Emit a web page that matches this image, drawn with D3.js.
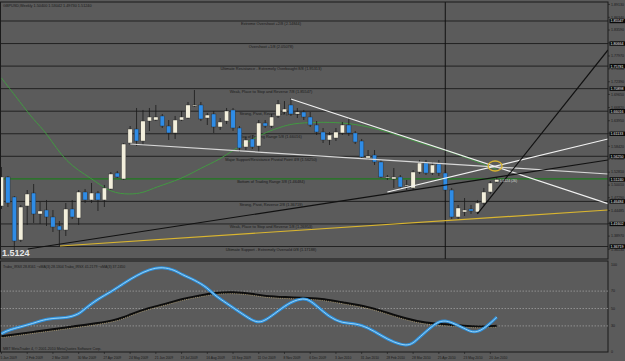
<!DOCTYPE html>
<html>
<head>
<meta charset="utf-8">
<script src="https://d3js.org/d3.v7.min.js"></script>
<style>
  body { margin: 0; background: #5b5b5b; }
  svg { display: block; font-family: "Liberation Sans", Arial, sans-serif; }
</style>
</head>
<body>
<div id="container"></div>
<script>
/* CONSTANTS AND GLOBALS */
const width = 625, height = 361;
const panel = {left: 0.5, right: 608, mainTop: 2, mainBottom: 259, indTop: 261, indBottom: 352};

/* DATA */
const header = "GBPUSD,Weekly  1.50400 1.53042 1.49730 1.51240";
const indHeader = "Trabo_IRSX 28.8161  ~xMA(3) 28.1304  Trabo_IRSX 41.2179  ~xMA(3) 37.2450";
const copyright = "MBT MetaTrader 4, \u00a9 2001-2010 MetaQuotes Software Corp.";

const dateLabels = ["5 Jan 2009","2 Feb 2009","2 Mar 2009","30 Mar 2009","27 Apr 2009","24 May 2009",
  "21 Jun 2009","19 Jul 2009","16 Aug 2009","13 Sep 2009","11 Oct 2009","8 Nov 2009","6 Dec 2009",
  "3 Jan 2010","31 Jan 2010","28 Feb 2010","28 Mar 2010","25 Apr 2010","23 May 2010","20 Jun 2010"];
const dateBars = [0,4,8,12,16,20,24,28,32,36,40,44,48,52,56,60,64,68,72,76];

// weekly OHLC, bar 0 = week of 5 Jan 2009
const opens = [1.4549,1.5177,1.4744,1.3813,1.4549,1.4830,1.4376,1.4462,1.4311,1.4116,
  1.4029,1.4484,1.4289,1.4852,1.4679,1.4830,1.4679,1.4917,1.5263,1.5134,
  1.5913,1.6216,1.5956,1.6389,1.6411,1.6498,1.6281,1.6130,1.6411,1.6454,
  1.6714,1.6736,1.6454,1.6541,1.6260,1.6389,1.6628,1.6238,1.5826,1.6000,
  1.5848,1.6346,1.6281,1.6498,1.6584,1.6736,1.6541,1.6584,1.6476,1.6303,
  1.6151,1.5978,1.6021,1.6130,1.6303,1.6130,1.5956,1.5588,1.5653,1.5502,
  1.5155,1.5134,1.5177,1.4982,1.4939,1.5285,1.5480,1.5263,1.5458,1.5263,
  1.4895,1.4311,1.4419,1.4484,1.4419,1.4614,1.4852,1.5069];
const highs = [1.5393,1.5199,1.4765,1.4571,1.4895,1.5025,1.4636,1.4679,1.4462,1.4224,
  1.4614,1.4679,1.4895,1.4917,1.5047,1.4874,1.5004,1.5285,1.5307,1.5913,
  1.6281,1.6671,1.6628,1.6671,1.6736,1.6541,1.6411,1.6498,1.6606,1.6801,
  1.7061,1.6801,1.6563,1.6606,1.6454,1.6671,1.6671,1.6281,1.6043,1.6086,
  1.6411,1.6411,1.6541,1.6844,1.6822,1.6887,1.6671,1.6628,1.6584,1.6389,
  1.6238,1.6151,1.6238,1.6368,1.6454,1.6173,1.6000,1.5761,1.5761,1.5545,
  1.5220,1.5372,1.5220,1.5112,1.5328,1.5545,1.5545,1.5502,1.5545,1.5328,
  1.4939,1.4571,1.4722,1.4571,1.4679,1.4939,1.5090,1.5177];
const lows = [1.4484,1.4527,1.3560,1.3769,1.4138,1.4181,1.4159,1.4116,1.3986,1.3680,
  1.3899,1.4267,1.4138,1.4614,1.4614,1.4441,1.4527,1.4895,1.5155,1.5112,
  1.5870,1.5848,1.5870,1.6173,1.6389,1.6238,1.5978,1.6000,1.6389,1.6433,
  1.6693,1.6389,1.6303,1.6130,1.6195,1.6324,1.6173,1.5718,1.5761,1.5783,
  1.5718,1.6238,1.6238,1.6454,1.6541,1.6498,1.6454,1.6411,1.6260,1.6086,
  1.5913,1.5870,1.5956,1.6086,1.6065,1.5891,1.5588,1.5545,1.5437,1.5155,
  1.5112,1.4939,1.4917,1.4895,1.4895,1.5242,1.5220,1.5220,1.5199,1.4874,
  1.4267,1.4267,1.4332,1.4376,1.4376,1.4571,1.4809,1.5047];
const closes = [1.5177,1.4614,1.3791,1.4527,1.4809,1.4376,1.4441,1.4311,1.4094,1.4029,
  1.4484,1.4311,1.4852,1.4679,1.4830,1.4679,1.4939,1.5242,1.5177,1.5891,
  1.6216,1.5956,1.6389,1.6476,1.6476,1.6281,1.6130,1.6411,1.6476,1.6736,
  1.6736,1.6433,1.6519,1.6260,1.6368,1.6606,1.6238,1.5805,1.5978,1.5826,
  1.6346,1.6281,1.6476,1.6758,1.6649,1.6541,1.6584,1.6476,1.6303,1.6151,
  1.5978,1.6086,1.6151,1.6303,1.6130,1.5935,1.5610,1.5632,1.5502,1.5177,
  1.5177,1.5177,1.4960,1.5004,1.5285,1.5480,1.5263,1.5437,1.5263,1.4895,
  1.4311,1.4506,1.4462,1.4441,1.4614,1.4852,1.5047,1.5124];

// moving average in the price panel (bar index, price)
const maBars = [0,3,5,7,10,14,17,20,22,24,28,31,34,36,39,41,44,46,50,54,58,62,65,69,72,77];
const maVals = [1.7320,1.6780,1.6411,1.6140,1.5480,1.5150,1.4830,1.4800,1.4830,1.4960,
  1.5134,1.5372,1.5560,1.5761,1.5990,1.6140,1.6290,1.6346,1.6368,1.6346,
  1.6238,1.6065,1.5913,1.5761,1.5610,1.5340];

// Murray math levels and their captions
const murrayLevels = [1.85547,1.80664,1.75781,1.70898,1.66016,1.61133,1.56250,1.51367,1.46484,1.41602,1.36719];
const murrayText = ["Extreme Overshoot +2/8 (2.14844)","Overshoot +1/8 (2.05078)",
  "Ultimate Resistance - Extremely Overbought 8/8 (1.95313)","Weak, Place to Stop and Reverse 7/8 (1.85547)",
  "Strong, Pivot, Reverse 6/8 (1.75781)","Top of Trading Range 5/8 (1.66016)",
  "Major Support/Resistance Pivotal Point 4/8 (1.56250)","Bottom of Trading Range 3/8 (1.46484)",
  "Strong, Pivot, Reverse 2/8 (1.36719)","Weak, Place to Stop and Reverse 1/8 (1.26953)",
  "Ultimate Support - Extremely Oversold 0/8 (1.17188)"];
const murrayGreen = 1.51367;

const priceTicks = [1.89130,1.86340,1.83590,1.80800,1.77970,1.75180,1.72390,1.69650,1.66820,1.63950,
  1.61240,1.58420,1.55660,1.52810,1.50010,1.47290,1.44485,1.41710,1.38970,1.36130];
const lastPrice = 1.51240;

// trend lines: [bar1, price1, bar2, price2, colour]
const trendLines = [
  [45, 1.6866, 94.3, 1.4599, "#f2f2f2"],
  [20, 1.5891, 94.3, 1.5242, "#d8d8d8"],
  [60, 1.4852, 94.3, 1.6000, "#f2f2f2"],
  [4.1, 1.3618, 94.3, 1.5545, "#111111"],
  [9.1, 1.3683, 94.3, 1.4462, "#d9b530"],
  [74, 1.4376, 94.3, 1.7927, "#111111"]
];
const circleAt = [76.75, 1.5415];
const vlineBar = 69;

// oscillator panel (bar index, value 0..100)
const blueBars = [0,1,3,5,6,8,10,12,13,15,17,19,21,23,25,27,28,30,32,33,35,37,39,40,41,43,45,47,48,49,
  51,53,55,57,59,61,63,64,65,67,68,69,70,72,73,74,75,76,77];
const blueVals = [21,25,29,33,36,39,39,43,50,61,69,79,88,95,98,94,89,83,74,66,56,46,36,34,36,47,58,62,59,53,
  40,33,33,28,19,11,7,10,17,30,35,36,34,27,23,23,27,33,40];
const blackBars = [0,5,10,15,18,20,23,26,28,31,33,36,39,41,44,48,50,53,57,60,63,66,69,72,74,77];
const blackVals = [18,23,28,33,37,43,51,56,61,65,68,69,67,64,63,62,61,57,52,45,38,33,32,30,29,30];
const levels = [70, 50, 30];
const levelLabels = [100, 70, 50, 30, 0];

/* SCALES */
const x = d3.scaleLinear().domain([-0.23, 94.3]).range([0, 608]);
const y = d3.scaleLinear().domain([1.33796, 1.90094]).range([260, 0]);
const yInd = d3.scaleLinear().domain([0, 100]).range([352, 265]);

const bars = opens.map((o, i) => ({i, o, h: highs[i], l: lows[i], c: closes[i]}));

/* DRAW */
const svg = d3.select("#container").append("svg")
  .attr("width", width).attr("height", height);

svg.append("rect").attr("width", width).attr("height", height).attr("fill", "#5b5b5b");

const defs = svg.append("defs");
defs.append("clipPath").attr("id", "mainClip").append("rect")
  .attr("x", panel.left).attr("y", panel.mainTop)
  .attr("width", panel.right - panel.left).attr("height", panel.mainBottom - panel.mainTop);
defs.append("clipPath").attr("id", "indClip").append("rect")
  .attr("x", panel.left).attr("y", panel.indTop)
  .attr("width", panel.right - panel.left).attr("height", panel.indBottom - panel.indTop);

const main = svg.append("g").attr("clip-path", "url(#mainClip)");

// murray lines + captions
main.selectAll(".murray")
  .data(murrayLevels)
  .join("line")
  .attr("class", "murray")
  .attr("x1", panel.left).attr("x2", panel.right)
  .attr("y1", d => y(d)).attr("y2", d => y(d))
  .attr("stroke", d => d === murrayGreen ? "#1e7a1e" : "#222")
  .attr("stroke-width", d => d === murrayGreen ? 1.4 : 1);

main.selectAll(".mtext")
  .data(murrayLevels)
  .join("text")
  .attr("class", "mtext")
  .attr("x", 271).attr("y", d => y(d) + 4.2)
  .attr("text-anchor", "middle")
  .attr("font-size", 3.9)
  .attr("fill", "#1a1a1a")
  .text((d, i) => murrayText[i]);

// moving average
const maLine = d3.line().x(d => x(d[0])).y(d => y(d[1])).curve(d3.curveBasis);
main.append("path")
  .datum(maBars.map((b, i) => [b, maVals[i]]))
  .attr("d", maLine)
  .attr("fill", "none").attr("stroke", "#3f9f3f").attr("stroke-width", 0.9);

// vertical line
main.append("line")
  .attr("x1", x(vlineBar)).attr("x2", x(vlineBar))
  .attr("y1", panel.mainTop).attr("y2", panel.mainBottom)
  .attr("stroke", "#111").attr("stroke-width", 1);

// candles
const bw = 4.4;
const candle = main.selectAll(".candle").data(bars).join("g").attr("class", "candle");
candle.append("line")
  .attr("x1", d => x(d.i)).attr("x2", d => x(d.i))
  .attr("y1", d => y(d.h)).attr("y2", d => y(d.l))
  .attr("stroke", "#1a1a1a").attr("stroke-width", 0.8);
candle.append("rect")
  .attr("x", d => x(d.i) - bw / 2)
  .attr("y", d => y(Math.max(d.o, d.c)))
  .attr("width", bw)
  .attr("height", d => Math.max(1, Math.abs(y(d.o) - y(d.c))))
  .attr("fill", d => d.c >= d.o ? "#f3efdc" : "#2f8ce6")
  .attr("stroke", "#2a2a2a").attr("stroke-width", 0.4);

// trend lines
main.selectAll(".trend")
  .data(trendLines)
  .join("line")
  .attr("class", "trend")
  .attr("x1", d => x(d[0])).attr("y1", d => y(d[1]))
  .attr("x2", d => x(d[2])).attr("y2", d => y(d[3]))
  .attr("stroke", d => d[4]).attr("stroke-width", 1.2);

main.append("ellipse")
  .attr("cx", x(circleAt[0])).attr("cy", y(circleAt[1]))
  .attr("rx", 7).attr("ry", 5)
  .attr("fill", "none").attr("stroke", "#d9b530").attr("stroke-width", 1.3);

// texts in main panel
svg.append("text").attr("x", 3).attr("y", 7).attr("font-size", 3.8).attr("fill", "#1a1a1a").text(header);
svg.append("text").attr("x", 2).attr("y", 256).attr("font-size", 9).attr("font-weight", "bold")
  .attr("fill", "#e6e6e6").text("1.5124");
svg.append("text").attr("x", x(77) + 3).attr("y", y(lastPrice) + 3).attr("font-size", 3.4)
  .attr("fill", "#dddddd").text("1.5124 (26)");

// panel frames
svg.append("rect").attr("x", panel.left).attr("y", panel.mainTop)
  .attr("width", panel.right - panel.left).attr("height", panel.mainBottom - panel.mainTop)
  .attr("fill", "none").attr("stroke", "#1a1a1a").attr("stroke-width", 1);
svg.append("rect").attr("x", panel.left).attr("y", panel.indTop)
  .attr("width", panel.right - panel.left).attr("height", panel.indBottom - panel.indTop)
  .attr("fill", "none").attr("stroke", "#1a1a1a").attr("stroke-width", 1);

// right price axis
const axis = svg.append("g");
axis.selectAll(".ptick")
  .data(priceTicks)
  .join("text")
  .attr("class", "ptick")
  .attr("x", 611).attr("y", d => y(d) + 1.3)
  .attr("font-size", 3.6).attr("fill", "#1a1a1a")
  .text(d => d.toFixed(5));
axis.selectAll(".ptickmark")
  .data(priceTicks)
  .join("line")
  .attr("class", "ptickmark")
  .attr("x1", panel.right).attr("x2", panel.right + 2)
  .attr("y1", d => y(d)).attr("y2", d => y(d))
  .attr("stroke", "#1a1a1a").attr("stroke-width", 0.6);

const boxVals = murrayLevels.map(d => d === murrayGreen ? lastPrice : d);
const box = axis.selectAll(".pbox").data(boxVals).join("g").attr("class", "pbox");
box.append("rect")
  .attr("x", 609.5).attr("y", d => y(d) - 2.2)
  .attr("width", 15.5).attr("height", 4.4)
  .attr("fill", "#0a0a0a");
box.append("text")
  .attr("x", 610.5).attr("y", d => y(d) + 1.4)
  .attr("font-size", 3.6).attr("fill", "#f0f0f0")
  .text(d => d.toFixed(5));

// oscillator panel
const ind = svg.append("g").attr("clip-path", "url(#indClip)");
ind.selectAll(".lvl")
  .data(levels)
  .join("line")
  .attr("class", "lvl")
  .attr("x1", panel.left).attr("x2", panel.right)
  .attr("y1", d => yInd(d)).attr("y2", d => yInd(d))
  .attr("stroke", "#a8a8a8").attr("stroke-width", 0.7)
  .attr("stroke-dasharray", "1.5,1.5");

const indLine = d3.line().x(d => x(d[0])).y(d => yInd(d[1])).curve(d3.curveBasis);
const blackData = blackBars.map((b, i) => [b, blackVals[i]]);
const blueData = blueBars.map((b, i) => [b, blueVals[i]]);

ind.append("path").datum(blackData).attr("d", indLine)
  .attr("fill", "none").attr("stroke", "#0d0d0d").attr("stroke-width", 2.2);
ind.append("path").datum(blackData).attr("d", indLine)
  .attr("transform", "translate(0,1.3)")
  .attr("fill", "none").attr("stroke", "#c9b27a").attr("stroke-width", 0.7)
  .attr("stroke-dasharray", "1,1.2");
ind.append("path").datum(blueData).attr("d", indLine)
  .attr("fill", "none").attr("stroke", "#2f90dc").attr("stroke-width", 3);
ind.append("path").datum(blueData).attr("d", indLine)
  .attr("fill", "none").attr("stroke", "#a4daf7").attr("stroke-width", 0.9);

svg.append("text").attr("x", 3).attr("y", 268).attr("font-size", 3.5).attr("fill", "#1a1a1a").text(indHeader);
svg.append("text").attr("x", 3).attr("y", 350).attr("font-size", 3.6).attr("fill", "#1a1a1a").text(copyright);

svg.selectAll(".ilabel")
  .data(levelLabels)
  .join("text")
  .attr("class", "ilabel")
  .attr("x", 611).attr("y", d => yInd(d) + 1.3)
  .attr("font-size", 3.6).attr("fill", "#1a1a1a")
  .text(d => d);

// date axis
svg.selectAll(".dlabel")
  .data(dateBars)
  .join("text")
  .attr("class", "dlabel")
  .attr("x", d => x(d) - 1)
  .attr("y", 358.5)
  .attr("font-size", 3.3).attr("fill", "#1a1a1a")
  .text((d, i) => dateLabels[i]);
svg.selectAll(".dtick")
  .data(dateBars)
  .join("line")
  .attr("class", "dtick")
  .attr("x1", d => x(d)).attr("x2", d => x(d))
  .attr("y1", panel.indBottom).attr("y2", panel.indBottom + 2)
  .attr("stroke", "#1a1a1a").attr("stroke-width", 0.6);
</script>
</body>
</html>
